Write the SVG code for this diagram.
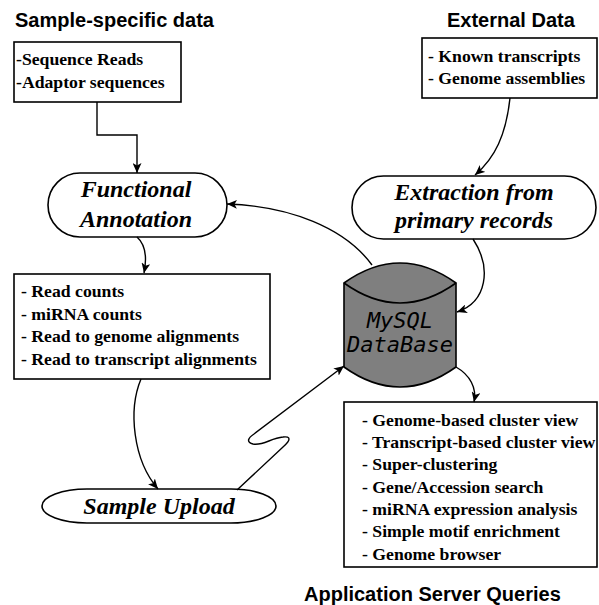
<svg xmlns="http://www.w3.org/2000/svg" width="599" height="605" viewBox="0 0 599 605">
<style>
.title{font-family:"Liberation Sans",Arial,sans-serif;font-weight:bold;font-size:20px;fill:#000}
.box{fill:#fff;stroke:#000;stroke-width:1.6}
.lst{font-family:"Liberation Serif","Times New Roman",serif;font-weight:bold;font-size:17.7px;fill:#000}
.proc{font-family:"Liberation Serif","Times New Roman",serif;font-weight:bold;font-style:italic;font-size:24px;fill:#000;text-anchor:middle}
.db{font-family:"DejaVu Sans Mono",monospace;font-style:italic;font-size:22px;fill:#000;text-anchor:middle}
.con{fill:none;stroke:#000;stroke-width:1.4}
</style>
<defs>
<marker id="arr" markerUnits="userSpaceOnUse" markerWidth="11" markerHeight="9" refX="10" refY="4.5" orient="auto">
<path d="M0,0 L10,4.5 L0,9 L2.5,4.5 z" fill="#000"/>
</marker>
</defs>
<rect width="599" height="605" fill="#fff"/>

<text class="title" x="15" y="27">Sample-specific data</text>
<text class="title" x="447" y="27">External Data</text>
<text class="title" x="304" y="601">Application Server Queries</text>

<g id="sample-data">
<rect class="box" x="14" y="42" width="167" height="60"/>
<text class="lst" x="16" y="65">-Sequence Reads</text>
<text class="lst" x="16" y="88">-Adaptor sequences</text>
</g>

<g id="external-data">
<rect class="box" x="422" y="38" width="175" height="60"/>
<text class="lst" x="428" y="62">- Known transcripts</text>
<text class="lst" x="428" y="84">- Genome assemblies</text>
</g>

<g id="functional-annotation">
<rect class="box" x="48" y="173" width="179" height="64" rx="32" ry="32"/>
<text class="proc" x="136" y="197">Functional</text>
<text class="proc" x="136" y="227">Annotation</text>
</g>

<g id="extraction">
<rect class="box" x="352" y="176" width="244" height="63" rx="31.5" ry="31.5"/>
<text class="proc" x="474" y="200">Extraction from</text>
<text class="proc" x="474" y="228">primary records</text>
</g>

<g id="results">
<rect class="box" x="14" y="274" width="256" height="105"/>
<text class="lst" x="21" y="297">- Read counts</text>
<text class="lst" x="21" y="319.5">- miRNA counts</text>
<text class="lst" x="21" y="342">- Read to genome alignments</text>
<text class="lst" x="21" y="365">- Read to transcript alignments</text>
</g>

<g id="database">
<path d="M344,283 Q400,243 456,283 L456,367 Q400,407 344,367 Z" fill="#7f7f7f" stroke="#000" stroke-width="1.6"/>
<path d="M344,283 Q400,323 456,283" fill="none" stroke="#000" stroke-width="1.6"/>
<text class="db" x="400" y="328">MySQL</text>
<text class="db" x="400" y="352">DataBase</text>
</g>

<g id="sample-upload">
<rect class="box" x="42" y="489" width="234" height="34" rx="45" ry="17"/>
<text class="proc" x="159" y="514">Sample Upload</text>
</g>

<g id="queries">
<rect class="box" x="344" y="402" width="253" height="165"/>
<text class="lst" x="362" y="426">- Genome-based cluster view</text>
<text class="lst" x="362" y="448">- Transcript-based cluster view</text>
<text class="lst" x="362" y="470">- Super-clustering</text>
<text class="lst" x="362" y="492.5">- Gene/Accession search</text>
<text class="lst" x="362" y="515">- miRNA expression analysis</text>
<text class="lst" x="362" y="537">- Simple motif enrichment</text>
<text class="lst" x="362" y="559.5">- Genome browser</text>
</g>

<g id="connectors">
<path class="con" d="M97,102 V135 H137 V173" marker-end="url(#arr)"/>
<path class="con" d="M137,237 C146,245 147,258 144,273" marker-end="url(#arr)"/>
<path class="con" d="M141,379 C128,410 133,460 158,489" marker-end="url(#arr)"/>
<path class="con" d="M237,490 L283,447 C291,440 291,436 283,437 C271,438 263,446 253,444 C246,442 248,438 254,434 L344,366" marker-end="url(#arr)"/>
<path class="con" d="M372,265 C345,228 290,206 227,204" marker-end="url(#arr)"/>
<path class="con" d="M510,98 C506,135 495,158 475,175" marker-end="url(#arr)"/>
<path class="con" d="M473,239 C492,268 487,302 457,312" marker-end="url(#arr)"/>
<path class="con" d="M456,367 C470,375 477,388 474,402" marker-end="url(#arr)"/>
</g>
</svg>
